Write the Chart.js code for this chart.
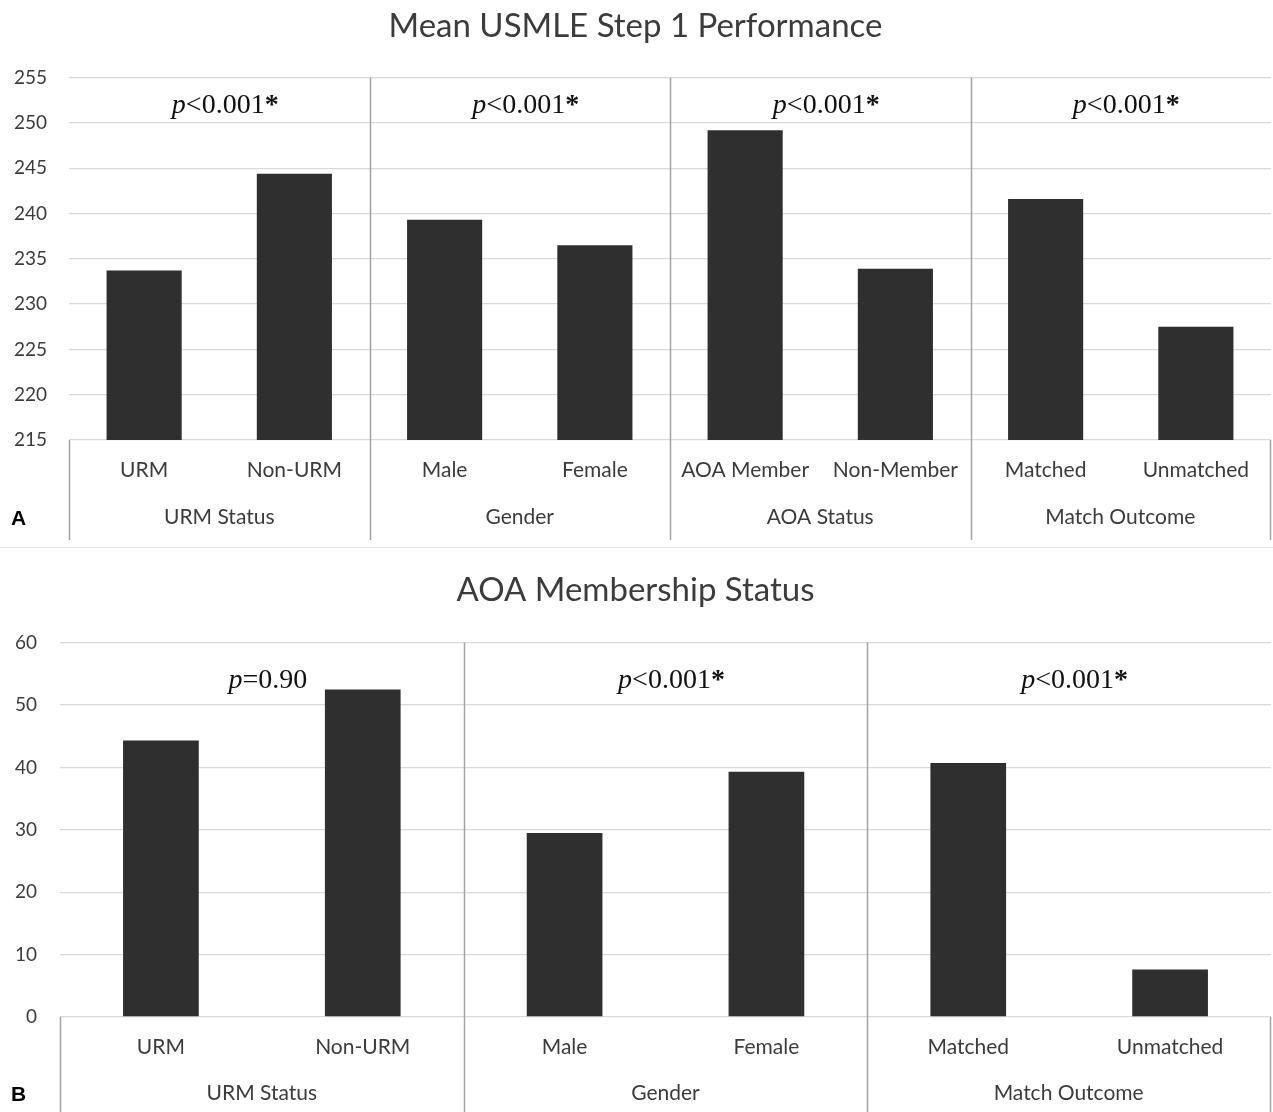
<!DOCTYPE html>
<html>
<head>
<meta charset="utf-8">
<script src="https://cdn.jsdelivr.net/npm/chart.js@4.4.1/dist/chart.umd.min.js"></script>
<style>
    html, body { margin: 0; padding: 0; background: #fff; }
    body { width: 1273px; height: 1112px; position: relative; overflow: hidden; }
    .panel { position: absolute; left: 0; width: 1273px; }
    #panelA { top: 0; height: 548px; }
    #panelB { top: 560px; height: 552px; }
    .sep { position: absolute; left: 0; top: 547px; width: 1273px; height: 1px; background: #e4e4e4; }
</style>
</head>
<body>
<div class="panel" id="panelA"><canvas id="chartA"></canvas></div>
<div class="sep"></div>
<div class="panel" id="panelB"><canvas id="chartB"></canvas></div>

<script>
// --- Panel A: Mean USMLE Step 1 Performance ---
const titleA = 'Mean USMLE Step 1 Performance';
const labelsA = ['URM', 'Non-URM', 'Male', 'Female', 'AOA Member', 'Non-Member', 'Matched', 'Unmatched'];
const valuesA = [233.7, 244.4, 239.3, 236.5, 249.2, 233.9, 241.6, 227.5];
const groupsA = ['URM Status', 'Gender', 'AOA Status', 'Match Outcome'];
const pValuesA = ['<0.001*', '<0.001*', '<0.001*', '<0.001*'];
const yTicksA = [215, 220, 225, 230, 235, 240, 245, 250, 255];

// --- Panel B: AOA Membership Status ---
const titleB = 'AOA Membership Status';
const labelsB = ['URM', 'Non-URM', 'Male', 'Female', 'Matched', 'Unmatched'];
const valuesB = [44.3, 52.5, 29.5, 39.3, 40.7, 7.6];
const groupsB = ['URM Status', 'Gender', 'Match Outcome'];
const pValuesB = ['=0.90', '<0.001*', '<0.001*'];
const yTicksB = [0, 10, 20, 30, 40, 50, 60];

const TEXT = '#3c3c3c';
const GRID = '#d9d9d9';
const BAR = '#2f2f2f';
const SANS = 'Lato';
const SERIF = '"Liberation Serif", "Times New Roman", serif';

// draws the group dividers, group names, p-values and panel letter
const groupPlugin = {
    id: 'groupPlugin',
    afterDatasetsDraw(chart, args, opts) {
        const { ctx, chartArea } = chart;
        const x = chart.scales.x;
        const n = opts.groups.length;
        const per = chart.data.labels.length / n;
        const lineBottom = chartArea.bottom + opts.depth;

        const edge = i => {
            if (i === 0) return x.left;
            if (i === n) return x.right - 1;
            return (x.getPixelForValue(i * per - 1) + x.getPixelForValue(i * per)) / 2;
        };

        ctx.save();
        ctx.strokeStyle = '#a3a3a3';
        ctx.lineWidth = 1.5;
        for (let i = 0; i <= n; i++) {
            const px = Math.round(edge(i)) + 0.5;
            const top = (i === 0 || i === n) ? chartArea.bottom : chartArea.top;
            ctx.beginPath();
            ctx.moveTo(px, top);
            ctx.lineTo(px, lineBottom);
            ctx.stroke();
        }

        // group names (second label row)
        ctx.fillStyle = TEXT;
        ctx.font = '21px ' + SANS;
        ctx.textAlign = 'center';
        ctx.textBaseline = 'middle';
        opts.groups.forEach((g, i) => {
            const cx = (edge(i) + edge(i + 1)) / 2;
            ctx.fillText(g, cx, chartArea.bottom + opts.groupRow);
        });

        // p-values
        const fs = 28;
        opts.pValues.forEach((pv, i) => {
            const star = pv.endsWith('*');
            const body = star ? pv.slice(0, -1) : pv;
            const parts = [
                { t: 'p', f: 'italic ' + fs + 'px ' + SERIF },
                { t: body, f: fs + 'px ' + SERIF }
            ];
            if (star) parts.push({ t: '*', f: 'bold ' + fs + 'px ' + SERIF });
            let w = 0;
            parts.forEach(p => { ctx.font = p.f; p.w = ctx.measureText(p.t).width; w += p.w; });
            let px = (edge(i) + edge(i + 1)) / 2 + opts.pShift - w / 2;
            ctx.fillStyle = '#111';
            ctx.textAlign = 'left';
            parts.forEach(p => {
                ctx.font = p.f;
                ctx.fillText(p.t, px, chartArea.top + opts.pRow);
                px += p.w;
            });
        });

        // panel letter
        ctx.fillStyle = '#000';
        ctx.font = 'bold 21px "Liberation Sans", Arial, sans-serif';
        ctx.textAlign = 'left';
        ctx.fillText(opts.letter, 11, chartArea.bottom + opts.groupRow + 2);
        ctx.restore();
    }
};

function makeChart(id, cfg) {
    const ticks = cfg.yTicks;
    return new Chart(document.getElementById(id), {
        type: 'bar',
        data: {
            labels: cfg.labels,
            datasets: [{
                data: cfg.values,
                backgroundColor: BAR,
                borderWidth: 0,
                categoryPercentage: 1,
                barPercentage: cfg.barPct
            }]
        },
        plugins: [groupPlugin],
        options: {
            responsive: true,
            maintainAspectRatio: false,
            animation: false,
            layout: { padding: { left: 0, right: 2, top: 0, bottom: cfg.padBottom } },
            plugins: {
                legend: { display: false },
                tooltip: { enabled: false },
                title: {
                    display: true,
                    text: cfg.title,
                    color: TEXT,
                    font: { family: SANS, size: 33, weight: 'normal', lineHeight: 1.2 },
                    padding: cfg.titlePad
                },
                groupPlugin: {
                    groups: cfg.groups,
                    pValues: cfg.pValues,
                    depth: cfg.axisHeight,
                    groupRow: cfg.groupRow,
                    pRow: cfg.pRow,
                    pShift: 6,
                    letter: cfg.letter
                }
            },
            scales: {
                x: {
                    grid: { display: false, drawTicks: false },
                    border: { display: false },
                    ticks: { color: TEXT, font: { family: SANS, size: 21 }, padding: 18, maxRotation: 0, autoSkip: false },
                    afterFit: s => { s.height = cfg.axisHeight; }
                },
                y: {
                    min: ticks[0],
                    max: ticks[ticks.length - 1],
                    grid: { color: GRID, lineWidth: 1.3, drawTicks: false },
                    border: { display: false },
                    ticks: { stepSize: ticks[1] - ticks[0], color: TEXT, font: { family: SANS, size: 19 }, padding: cfg.yPad },
                    afterFit: s => { s.width = cfg.axisWidth; }
                }
            }
        }
    });
}

makeChart('chartA', {
    title: titleA, labels: labelsA, values: valuesA, groups: groupsA, pValues: pValuesA, yTicks: yTicksA,
    barPct: 0.5, axisWidth: 69, yPad: 22, axisHeight: 100, padBottom: 8,
    titlePad: { top: 7, bottom: 31 }, groupRow: 77, pRow: 28, letter: 'A'
});

makeChart('chartB', {
    title: titleB, labels: labelsB, values: valuesB, groups: groupsB, pValues: pValuesB, yTicks: yTicksB,
    barPct: 0.375, axisWidth: 60, yPad: 23, axisHeight: 95, padBottom: 0,
    titlePad: { top: 11, bottom: 32 }, groupRow: 76, pRow: 38, letter: 'B'
});
</script>
</body>
</html>
